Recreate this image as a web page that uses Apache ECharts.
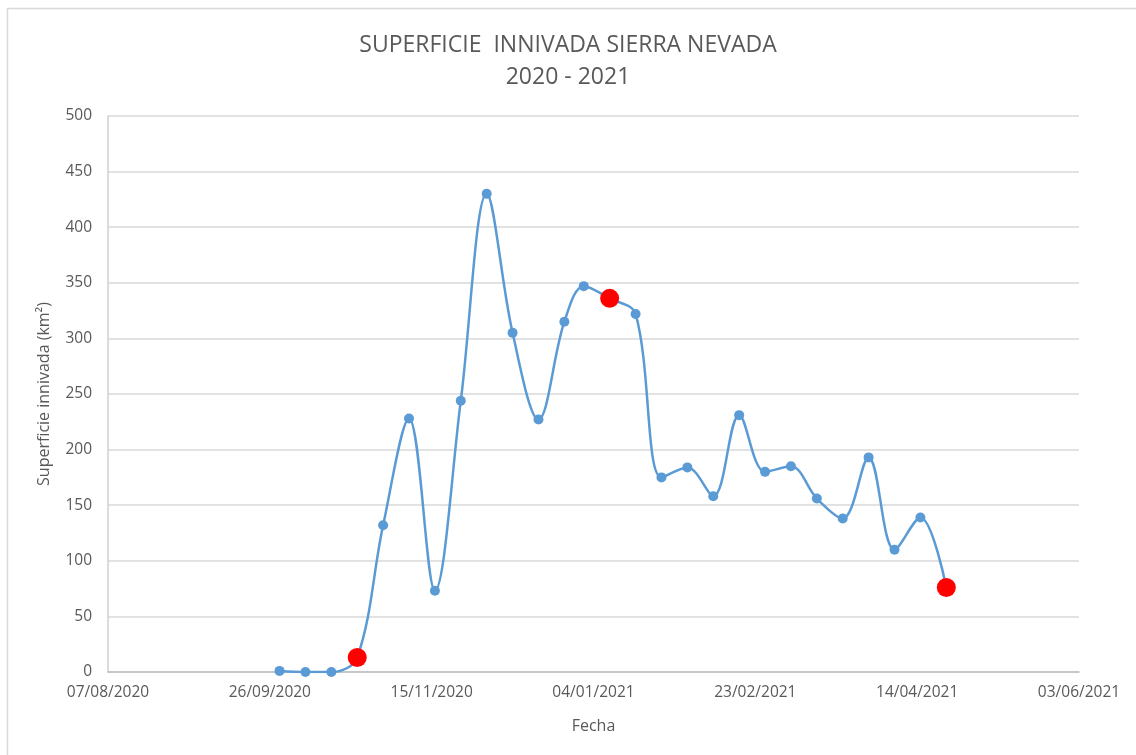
<!DOCTYPE html>
<html>
<head>
<meta charset="utf-8">
<script src="https://cdn.jsdelivr.net/npm/echarts@6/dist/echarts.min.js"></script>
<style>
html,body{margin:0;padding:0;background:#fff;}
#chart{width:1136px;height:755px;}
</style>
</head>
<body>
<div id="chart"></div>
<script>
// ---- data ----
const titleLines = ['SUPERFICIE  INNIVADA SIERRA NEVADA', '2020 - 2021'];
const yAxisName = 'Superficie innivada (km²)';
const xAxisName = 'Fecha';
const axisStart = '2020-08-07';
const axisEnd = '2021-06-03';
const tickStepDays = 50;
const yTicks = [0, 50, 100, 150, 200, 250, 300, 350, 400, 450, 500];

const dates = [
  '2020-09-29','2020-10-07','2020-10-15','2020-10-23','2020-10-31','2020-11-08',
  '2020-11-16','2020-11-24','2020-12-02','2020-12-10','2020-12-18','2020-12-26',
  '2021-01-01','2021-01-09','2021-01-17','2021-01-25','2021-02-02','2021-02-10',
  '2021-02-18','2021-02-26','2021-03-06','2021-03-14','2021-03-22','2021-03-30',
  '2021-04-07','2021-04-15','2021-04-23'
];
const area = [
  1, 0, 0, 13, 132, 228,
  73, 244, 430, 305, 227, 315,
  347, 336, 322, 175, 184, 158,
  231, 180, 185, 156, 138, 193,
  110, 139, 76
];
const highlightDates = ['2020-10-23', '2021-01-09', '2021-04-23'];

// ---- helpers ----
const DAY = 86400000;
function toMs(s){ const p = s.split('-').map(Number); return Date.UTC(p[0], p[1]-1, p[2]); }
const base = toMs(axisStart);
const dayOf = s => (toMs(s) - base) / DAY;
function fmt(d){
  const t = new Date(base + d * DAY);
  const dd = String(t.getUTCDate()).padStart(2,'0');
  const mm = String(t.getUTCMonth()+1).padStart(2,'0');
  return dd + '/' + mm + '/' + t.getUTCFullYear();
}
const lineData = dates.map((d,i) => [dayOf(d), area[i]]);
const redData = highlightDates.map(d => [dayOf(d), area[dates.indexOf(d)]]);

const FONT = '"Open Sans", "Noto Sans", sans-serif';
const TXT = '#595959';

const chart = echarts.init(document.getElementById('chart'), null, {renderer:'canvas'});
chart.setOption({
  animation: false,
  backgroundColor: '#fff',
  title: {
    text: titleLines.join('\n'),
    left: 'center',
    top: 24,
    textStyle: { fontFamily: FONT, fontSize: 23, fontWeight: 'normal', color: TXT, lineHeight: 32 }
  },
  graphic: [{
    type: 'rect', silent: true,
    shape: { x: 7.5, y: 8.5, width: 1200, height: 800 },
    style: { fill: 'none', stroke: '#d9d9d9', lineWidth: 1.5 }
  }],
  grid: { left: 108, right: 57, top: 116, bottom: 83 },
  xAxis: {
    type: 'value',
    min: 0,
    max: dayOf(axisEnd),
    interval: tickStepDays,
    name: xAxisName,
    nameLocation: 'middle',
    nameGap: 46,
    nameTextStyle: { fontFamily: FONT, fontSize: 16, color: TXT },
    axisLine: { show: true, lineStyle: { color: '#bfbfbf', width: 1.5 } },
    axisTick: { show: false },
    splitLine: { show: false },
    axisLabel: { fontFamily: FONT, fontSize: 15.5, color: TXT, margin: 13, formatter: v => fmt(v), showMaxLabel: true, showMinLabel: true }
  },
  yAxis: {
    type: 'value',
    min: yTicks[0],
    max: yTicks[yTicks.length-1],
    interval: yTicks[1] - yTicks[0],
    name: yAxisName,
    nameLocation: 'middle',
    nameGap: 56,
    nameTextStyle: { fontFamily: FONT, fontSize: 16, color: TXT },
    axisLine: { show: true, lineStyle: { color: '#d0d0d0', width: 1.5 } },
    axisTick: { show: false },
    splitLine: { show: true, lineStyle: { color: '#d9d9d9', width: 1.5 } },
    axisLabel: { fontFamily: FONT, fontSize: 15.5, color: TXT, margin: 16 }
  },
  series: [
    {
      type: 'line',
      data: lineData,
      smooth: 0.35,
      symbol: 'circle',
      symbolSize: 10,
      lineStyle: { color: '#5B9BD5', width: 2.5 },
      itemStyle: { color: '#5B9BD5' },
      z: 2
    },
    {
      type: 'scatter',
      data: redData,
      symbol: 'circle',
      symbolSize: 19,
      itemStyle: { color: '#ff0000', opacity: 1 },
      z: 3
    }
  ]
});
</script>
</body>
</html>
